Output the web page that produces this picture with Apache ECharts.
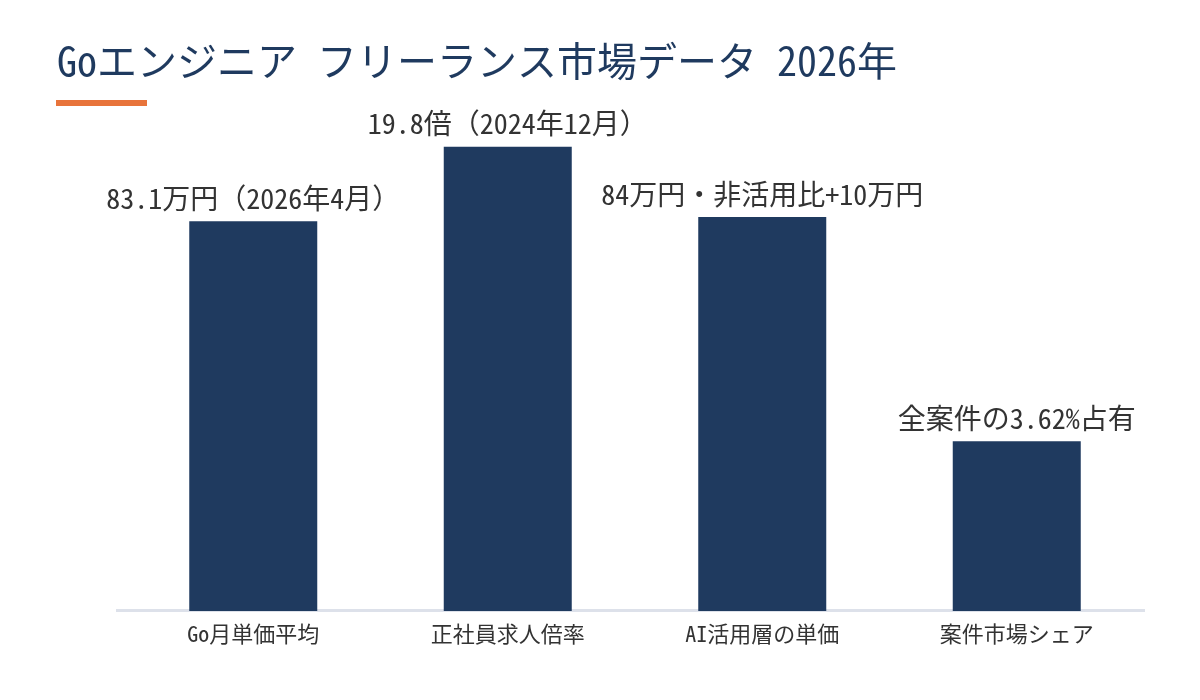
<!DOCTYPE html>
<html><head><meta charset="utf-8">
<script src="https://cdn.jsdelivr.net/npm/echarts@6/dist/echarts.min.js"></script>
<style>html,body{margin:0;padding:0;background:#fff}#c{width:1200px;height:700px}</style>
</head><body><div id="c"></div>
<script>
const categories = ['Go月単価平均', '正社員求人倍率', 'AI活用層の単価', '案件市場シェア'];
const barHeights = [83.1, 99, 84, 36.2];
const barLabels = ['83.1万円（2026年4月）', '19.8倍（2024年12月）', '84万円・非活用比+10万円', '全案件の3.62%占有'];
const FONT = '"Noto Sans Mono CJK JP", "Noto Sans CJK JP", sans-serif';
const chart = echarts.init(document.getElementById('c'));
chart.setOption({
  animation: false,
  backgroundColor: '#fff',
  title: {
    text: 'Goエンジニア フリーランス市場データ 2026年',
    left: 52, top: 36,
    textStyle: { fontFamily: FONT, fontSize: 40, fontWeight: 'normal', color: '#1f3a5f' }
  },
  graphic: [
    { type: 'rect', left: 56, top: 100, shape: { width: 91, height: 6 }, style: { fill: '#e8743b' } },
    { type: 'rect', left: 116, top: 609, z: 0, shape: { width: 1029, height: 3 }, style: { fill: '#dde1ea' } }
  ],
  grid: { left: 126, right: 56, top: 142, bottom: 89 },
  xAxis: {
    type: 'category', data: categories,
    axisLine: { show: false },
    axisTick: { show: false },
    axisLabel: { fontFamily: FONT, fontSize: 22, color: '#333', margin: 12 }
  },
  yAxis: { type: 'value', min: 0, max: 100, show: false, splitLine: { show: false } },
  series: [{
    type: 'bar', data: barHeights, barWidth: 128, z: 2,
    itemStyle: { color: '#1f3a5f' },
    label: {
      show: true, position: 'top', distance: 9,
      fontFamily: FONT, fontSize: 28, color: '#333',
      formatter: p => barLabels[p.dataIndex]
    }
  }]
});
</script></body></html>
